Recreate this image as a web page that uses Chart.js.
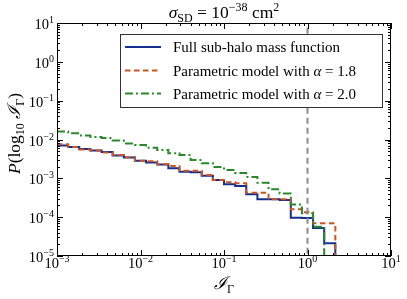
<!DOCTYPE html>
<html><head><meta charset="utf-8">
<script src="https://cdn.jsdelivr.net/npm/chart.js@4/dist/chart.umd.min.js"></script>
<style>html,body{margin:0;padding:0;background:#fff}</style>
</head><body>
<canvas id="c" width="407" height="299"></canvas>
<script>
// ---- data ----
const binEdges = [0.001, 0.001359, 0.001848, 0.002512, 0.003415, 0.004642, 0.00631, 0.008577,
  0.01166, 0.01585, 0.02154, 0.02929, 0.03981, 0.05412, 0.07356, 0.1, 0.1359, 0.1848,
  0.2512, 0.3415, 0.4642, 0.631, 0.8577, 1.166, 1.585, 2.154];
const fullSubhalo = [0.00700, 0.00641, 0.00569, 0.00520, 0.00476, 0.00387, 0.00344, 0.00284,
  0.00255, 0.00227, 0.00181, 0.00148, 0.00143, 0.00117, 0.000906, 0.000701, 0.000634, 0.000387,
  0.000288, 0.000288, 0.000277, 0.0000968, 0.0000950, 0.0000526, 0.0000212];
const paramAlpha18 = [0.00752, 0.00641, 0.00552, 0.00520, 0.00462, 0.00399, 0.00348, 0.00284,
  0.00274, 0.00230, 0.00207, 0.00157, 0.00157, 0.00122, 0.000906, 0.000791, 0.000745, 0.000427,
  0.000427, 0.000288, 0.000288, 0.000159, 0.000133, 0.0000693, 0.0000693];
const paramAlpha20 = [0.0161, 0.0144, 0.0127, 0.0116, 0.0109, 0.00942, 0.00789, 0.00721,
  0.00611, 0.00536, 0.00441, 0.00399, 0.00296, 0.00244, 0.00196, 0.00164, 0.00137, 0.00108,
  0.000767, 0.000521, 0.000404, 0.000212, 0.000126, 0.0000568, 0];
const thresholdX = 1;
const xTickValues = [1e-3, 1e-2, 1e-1, 1, 10];
const xTickExps = ['\u22123', '\u22122', '\u22121', '0', '1'];
const yTickValues = [1e-5, 1e-4, 1e-3, 1e-2, 1e-1, 1, 10];
const yTickExps = ['\u22125', '\u22124', '\u22123', '\u22122', '\u22121', '0', '1'];
const seriesLabels = ['Full sub-halo mass function', 'Parametric model with ', 'Parametric model with '];
const alphaValues = ['', '1.8', '2.0'];

const X_MIN = 1e-3, X_MAX = 10, Y_MIN = 1e-5, Y_MAX = 10;
const COLORS = ['#14308f', '#cc5522', '#2a8a2a'];
const DASHES = [[], [5.5, 3.5], [8, 3, 2, 3]];
const SERIF = "'Liberation Serif','DejaVu Serif',serif";

function histPoints(vals) {
  const pts = [];
  let last = -1;
  for (let i = 0; i < vals.length; i++) {
    if (vals[i] > 0) { pts.push({x: binEdges[i], y: vals[i]}); last = i; }
  }
  pts.push({x: binEdges[last + 1], y: vals[last]});
  pts.push({x: binEdges[last + 1], y: Y_MIN / 100});
  return pts;
}

function drawRich(ctx, segs, x, y, align) {
  let w = 0;
  segs.forEach(s => { ctx.font = s.f; s.w = ctx.measureText(s.t).width; w += s.w; });
  let cx = align === 'center' ? x - w / 2 : (align === 'right' ? x - w : x);
  ctx.textAlign = 'left';
  ctx.textBaseline = 'alphabetic';
  segs.forEach(s => { ctx.font = s.f; ctx.fillText(s.t, cx, y + (s.dy || 0)); cx += s.w; });
}

const decorPlugin = {
  id: 'decor',
  afterDraw(chart) {
    const ctx = chart.ctx, a = chart.chartArea, xs = chart.scales.x, ys = chart.scales.y;
    ctx.save();
    ctx.strokeStyle = '#000';
    ctx.lineWidth = 1;
    ctx.strokeRect(Math.round(a.left) + 0.5, Math.round(a.top) + 0.5,
      Math.round(a.right - a.left) - 1, Math.round(a.bottom - a.top) - 1);
    ctx.beginPath();
    for (let d = -3; d <= 1; d++) {
      for (let m = 1; m <= 9; m++) {
        const v = m * Math.pow(10, d);
        if (v > X_MAX * 1.0001) break;
        const px = Math.round(xs.getPixelForValue(v)) + 0.5;
        const len = m === 1 ? 6 : 3;
        ctx.moveTo(px, a.bottom); ctx.lineTo(px, a.bottom - len);
        ctx.moveTo(px, a.top); ctx.lineTo(px, a.top + len);
      }
    }
    for (let d = -5; d <= 1; d++) {
      for (let m = 1; m <= 9; m++) {
        const v = m * Math.pow(10, d);
        if (v > Y_MAX * 1.0001) break;
        const py = Math.round(ys.getPixelForValue(v)) + 0.5;
        const len = m === 1 ? 6 : 3;
        ctx.moveTo(a.left, py); ctx.lineTo(a.left + len, py);
        ctx.moveTo(a.right, py); ctx.lineTo(a.right - len, py);
      }
    }
    ctx.stroke();
    ctx.fillStyle = '#000';
    const base = '14.5px ' + SERIF, sup = '10px ' + SERIF;
    xTickValues.forEach((v, i) => {
      const px = xs.getPixelForValue(v);
      drawRich(ctx, [{t: '10', f: base}, {t: xTickExps[i], f: sup, dy: -6}], px, a.bottom + 12, 'center');
    });
    yTickValues.forEach((v, i) => {
      const py = ys.getPixelForValue(v);
      drawRich(ctx, [{t: '10', f: base}, {t: yTickExps[i], f: sup, dy: -6}], a.left - 3, py + 6, 'right');
    });
    // title
    drawRich(ctx, [
      {t: '\u03c3', f: 'italic 17.5px ' + SERIF},
      {t: 'SD', f: '12px ' + SERIF, dy: 3.5},
      {t: ' = 10', f: '17.5px ' + SERIF},
      {t: '\u221238', f: '12px ' + SERIF, dy: -7},
      {t: ' cm', f: '17.5px ' + SERIF},
      {t: '2', f: '12px ' + SERIF, dy: -7}
    ], (a.left + a.right) / 2, 18, 'center');
    // x label
    drawRich(ctx, [
      {t: '\u2110', f: 'italic 17.5px ' + SERIF},
      {t: '\u0393', f: '12px ' + SERIF, dy: 3.5}
    ], (a.left + a.right) / 2, 289, 'center');
    // y label
    ctx.save();
    ctx.translate(20, (a.top + a.bottom) / 2 - 6);
    ctx.rotate(-Math.PI / 2);
    drawRich(ctx, [
      {t: 'P', f: 'italic 17.5px ' + SERIF},
      {t: '(log', f: '17.5px ' + SERIF},
      {t: '10', f: '12px ' + SERIF, dy: 3.5},
      {t: ' \u2110', f: 'italic 17.5px ' + SERIF},
      {t: '\u0393', f: '12px ' + SERIF, dy: 3.5},
      {t: ')', f: '17.5px ' + SERIF}
    ], 0, 0, 'center');
    ctx.restore();
    // legend
    const lx = 120.5, ly = 34.5, lw = 262, lh = 73;
    ctx.fillStyle = '#fff';
    ctx.fillRect(lx, ly, lw, lh);
    ctx.strokeStyle = '#333';
    ctx.lineWidth = 1;
    ctx.strokeRect(lx, ly, lw, lh);
    const rows = [47, 70.5, 93.5];
    rows.forEach((ry, i) => {
      ctx.save();
      ctx.strokeStyle = COLORS[i];
      ctx.lineWidth = 2;
      ctx.setLineDash(DASHES[i]);
      ctx.beginPath(); ctx.moveTo(125, ry); ctx.lineTo(161, ry); ctx.stroke();
      ctx.restore();
      ctx.fillStyle = '#000';
      const segs = [{t: seriesLabels[i], f: '15px ' + SERIF}];
      if (alphaValues[i]) {
        segs.push({t: '\u03b1', f: 'italic 15px ' + SERIF});
        segs.push({t: ' = ' + alphaValues[i], f: '15px ' + SERIF});
      }
      drawRich(ctx, segs, 173, ry + 5, 'left');
    });
    ctx.restore();
  }
};

const ds = (label, vals, i) => ({
  label, data: histPoints(vals), borderColor: COLORS[i], borderWidth: 2,
  borderDash: DASHES[i], stepped: true, pointRadius: 0, fill: false, order: 3 - i
});

new Chart(document.getElementById('c'), {
  type: 'line',
  data: {
    datasets: [
      {label: 'threshold', data: [{x: thresholdX, y: Y_MIN / 100}, {x: thresholdX, y: Y_MAX * 100}],
       borderColor: '#8c8c8c', borderWidth: 2, borderDash: [6, 4], pointRadius: 0, order: -1},
      ds('Parametric model with \u03b1 = 2.0', paramAlpha20, 2),
      ds('Parametric model with \u03b1 = 1.8', paramAlpha18, 1),
      ds('Full sub-halo mass function', fullSubhalo, 0)
    ]
  },
  options: {
    responsive: false, animation: false, devicePixelRatio: 1,
    layout: {padding: {left: 57, right: 16, top: 23, bottom: 43}},
    scales: {
      x: {type: 'logarithmic', min: X_MIN, max: X_MAX, display: false},
      y: {type: 'logarithmic', min: Y_MIN, max: Y_MAX, display: false}
    },
    plugins: {legend: {display: false}, tooltip: {enabled: false}}
  },
  plugins: [decorPlugin]
});
</script>
</body></html>
